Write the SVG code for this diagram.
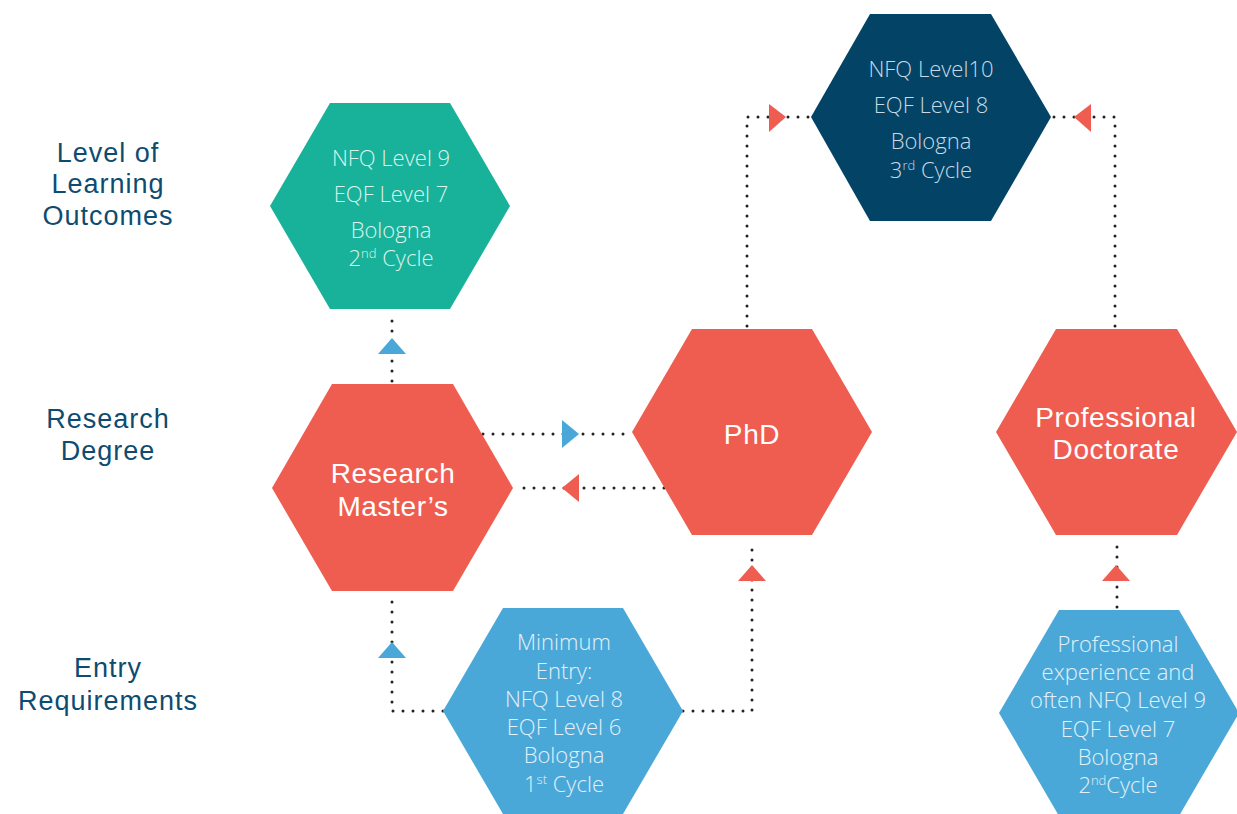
<svg xmlns="http://www.w3.org/2000/svg" width="1237" height="814" viewBox="0 0 1237 814">
<style>
.lbl{font-family:"Liberation Sans",Arial,sans-serif;font-size:27px;letter-spacing:1px;fill:#0D4C70;text-anchor:middle}
.big{font-family:"Liberation Sans",Arial,sans-serif;font-size:28px;letter-spacing:0.6px;fill:#FFFFFF;text-anchor:middle}
.sm{font-family:"Open Sans","Liberation Sans",sans-serif;font-size:22px;font-weight:300;text-anchor:middle}
.tealT{fill:#DDF4EE}
.navyT{fill:#C9D9E5}
.blueT{fill:#E2F1FA}
.dot{fill:none;stroke:#222;stroke-width:3;stroke-dasharray:0 10;stroke-linecap:round}
.red{fill:#EF5D51}
.blue{fill:#4AA8D8}
.teal{fill:#18B29A}
.navy{fill:#034466}
</style>
<rect width="1237" height="814" fill="#FFFFFF"/>
<g id="row-labels">
<text class="lbl" x="108" y="162">Level of</text>
<text class="lbl" x="108" y="193">Learning</text>
<text class="lbl" x="108" y="225">Outcomes</text>
<text class="lbl" x="108" y="428">Research</text>
<text class="lbl" x="108" y="460">Degree</text>
<text class="lbl" x="108" y="677">Entry</text>
<text class="lbl" x="108" y="710">Requirements</text>
</g>
<g id="connectors">
<path class="dot" d="M392,381 V312"/>
<path class="dot" d="M483,434 H628"/>
<path class="dot" d="M664,488 H515"/>
<path class="dot" d="M443,711 H392 V594"/>
<path class="dot" d="M683,711 H752 V540"/>
<path class="dot" d="M747,326 V117 H809"/>
<path class="dot" d="M1115,326 V117 H1053"/>
<path class="dot" d="M1117,607 V538"/>
<polygon class="blue" points="392,338 406,354 378,354"/>
<polygon class="blue" points="579,434 562,420 562,448"/>
<polygon class="red" points="562,488 579,474 579,502"/>
<polygon class="blue" points="392,642 406,658 378,658"/>
<polygon class="red" points="752,565 766,581 738,581"/>
<polygon class="red" points="786,117 769,104 769,132"/>
<polygon class="red" points="1074,117 1091,104 1091,132"/>
<polygon class="red" points="1116,565 1130,581 1102,581"/>
</g>
<g id="nfq9">
<polygon class="teal" points="270,206 330,103 450,103 510,206 450,309 330,309"/>
<text class="sm tealT" x="391" y="166">NFQ Level 9</text>
<text class="sm tealT" x="391" y="202">EQF Level 7</text>
<text class="sm tealT" x="391" y="238">Bologna</text>
<text class="sm tealT" x="391" y="266">2<tspan font-size="13" dy="-8">nd</tspan><tspan dy="8"> Cycle</tspan></text>
</g>
<g id="nfq10">
<polygon class="navy" points="811,117 870,14 991,14 1051,117 991,221 870,221"/>
<text class="sm navyT" x="931" y="77">NFQ Level10</text>
<text class="sm navyT" x="931" y="113">EQF Level 8</text>
<text class="sm navyT" x="931" y="149">Bologna</text>
<text class="sm navyT" x="931" y="178">3<tspan font-size="13" dy="-8">rd</tspan><tspan dy="8"> Cycle</tspan></text>
</g>
<g id="research-masters">
<polygon class="red" points="272,488 332,384 453,384 513,488 453,591 332,591"/>
<text class="big" x="393" y="483">Research</text>
<text class="big" x="393" y="516">Master’s</text>
</g>
<g id="phd">
<polygon class="red" points="632,432 692,329 812,329 872,432 812,535 692,535"/>
<text class="big" x="752" y="444">PhD</text>
</g>
<g id="professional-doctorate">
<polygon class="red" points="996,432 1056,329 1177,329 1237,432 1177,535 1056,535"/>
<text class="big" x="1116" y="427">Professional</text>
<text class="big" x="1116" y="459">Doctorate</text>
</g>
<g id="minimum-entry">
<polygon class="blue" points="443,711 503,608 623,608 683,711 623,814 503,814"/>
<text class="sm blueT" x="564" y="650">Minimum</text>
<text class="sm blueT" x="564" y="679">Entry:</text>
<text class="sm blueT" x="564" y="707">NFQ Level 8</text>
<text class="sm blueT" x="564" y="735">EQF Level 6</text>
<text class="sm blueT" x="564" y="763">Bologna</text>
<text class="sm blueT" x="564" y="792">1<tspan font-size="13" dy="-8">st</tspan><tspan dy="8"> Cycle</tspan></text>
</g>
<g id="professional-experience">
<polygon class="blue" points="999,713 1059,610 1179,610 1239,713 1179,816 1059,816"/>
<text class="sm blueT" x="1118" y="652">Professional</text>
<text class="sm blueT" x="1118" y="680">experience and</text>
<text class="sm blueT" x="1118" y="708">often NFQ Level 9</text>
<text class="sm blueT" x="1118" y="737">EQF Level 7</text>
<text class="sm blueT" x="1118" y="765">Bologna</text>
<text class="sm blueT" x="1118" y="793">2<tspan font-size="13" dy="-8">nd</tspan><tspan dy="8">Cycle</tspan></text>
</g>
</svg>
